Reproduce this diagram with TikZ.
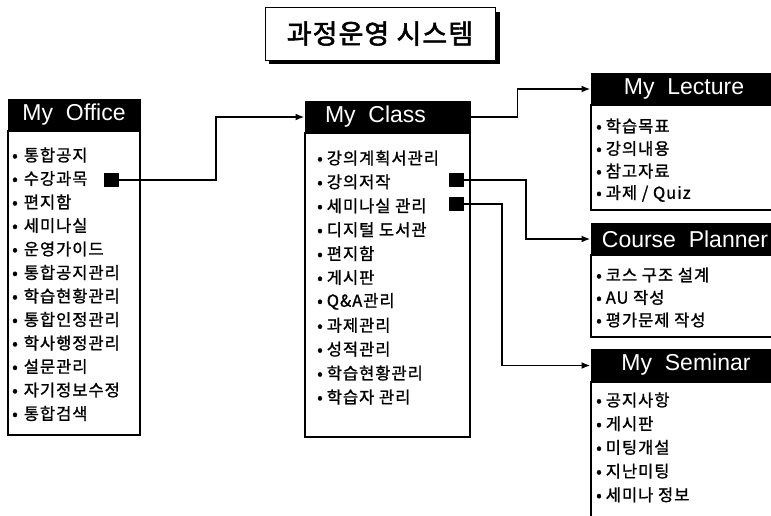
\documentclass[tikz,border=0pt]{standalone}
\usepackage{fontspec}
\setmainfont{Liberation Sans}
\newfontfamily\kr[LetterSpace=6,FakeBold=1.2]{Noto Sans CJK KR}
\newfontfamily\krt[LetterSpace=4,FakeBold=2]{Noto Sans CJK KR}
\usetikzlibrary{arrows.meta}
\begin{document}
\begin{tikzpicture}[x=1pt,y=-1pt,
  hdr/.style={draw=black,fill=black,line width=1pt,minimum height=32pt,inner sep=0pt},
  hdrtext/.style={text=white,font=\fontsize{23}{25}\selectfont,inner sep=0pt},
  body/.style={draw=black,line width=1.2pt,inner sep=0pt,minimum width=#1},
  item/.style={anchor=west,font=\kr\fontsize{16.5}{18}\selectfont,inner sep=0pt},
  sq/.style={fill=black,minimum width=15pt,minimum height=14pt,inner sep=0pt},
  conn/.style={line width=1.8pt,-{Latex[length=9pt,width=7pt]}},
]
\clip (0,0) rectangle (771,515);
\fill[white] (0,0) rectangle (771,515);

% title
\node[draw,line width=1pt,fill=white,minimum width=230pt,minimum height=53pt]
  (title) at (380,33.5) {\krt\fontsize{27}{29}\selectfont 과정운영 시스템};
\draw[line width=4pt] ([xshift=2pt,yshift=-5pt]title.north east)
  -- ([xshift=2pt,yshift=-1pt]title.south east)
  -- ([xshift=4pt,yshift=-1pt]title.south west);

% bodies
\node[body=132pt,minimum height=304pt] (officebody) at (74,283) {};
\node[body=165pt,minimum height=304pt] (classbody) at (387.5,285) {};
\node[body=189pt,minimum height=105pt] (lecturebody) at (685.5,157.5) {};
\node[body=189pt,minimum height=82pt] (plannerbody) at (685.5,296) {};
\node[body=189pt,minimum height=148pt] (seminarbody) at (685.5,456) {};

% headers
\node[hdr,minimum width=132pt] (office) at (74,115) {};
\node[hdr,minimum width=165pt] (myclass) at (387.5,117) {};
\node[hdr,minimum width=189pt] (lecture) at (685.5,89) {};
\node[hdr,minimum width=189pt] (planner) at (685.5,239) {};
\node[hdr,minimum width=189pt,minimum height=33pt] (seminar) at (685.5,365.5) {};

\node[hdrtext] (officet) at (74,115) {My~~Office};
\node[hdrtext] (myclasst) at (375.5,117) {My~~Class};
\node[hdrtext] (lecturet) at (684,89) {My~~Lecture};
\node[hdrtext] (plannert) at (685,239) {Course~~Planner};
\node[hdrtext] (seminart) at (686,365) {My~~Seminar};

% items
\foreach \t [count=\i] in {통합공지,수강과목,편지함,세미나실,운영가이드,통합공지관리,학습현황관리,통합인정관리,학사행정관리,설문관리,자기정보수정,통합검색}
  \node[item] (o\i) at (12,{155+(\i-1)*23.5}) {•\hspace{6pt}\t};
\foreach \t [count=\i] in {강의계획서관리,강의저작,세미나실 관리,디지털 도서관,편지함,게시판,Q\&A관리,과제관리,성적관리,학습현황관리,학습자 관리}
  \node[item] (c\i) at (317,{158+(\i-1)*23.9}) {•\hspace{4pt}\t};
\foreach \t [count=\i] in {학습목표,강의내용,참고자료,과제 / Quiz}
  \node[item] (l\i) at (596,{126+(\i-1)*22.5}) {•\hspace{4pt}\t};
\foreach \t [count=\i] in {코스 구조 설계,AU 작성,평가문제 작성}
  \node[item] (p\i) at (596,{275+(\i-1)*22.5}) {•\hspace{4pt}\t};
\foreach \t [count=\i] in {공지사항,게시판,미팅개설,지난미팅,세미나 정보}
  \node[item] (s\i) at (596,{400+(\i-1)*23.7}) {•\hspace{4pt}\t};

% squares
\node[sq] (so) at (111,180) {};
\node[sq] (sc1) at (456,180) {};
\node[sq] (sc2) at (456,204) {};

% connectors
\draw[conn] (so.east) -- ++(97,0) |- (myclass.west);
\draw[conn] (myclass.east) -- ++(47,0) |- (lecture.west);
\draw[conn] (sc1.east) -- ++(62,0) |- (planner.west);
\draw[conn] (sc2.east) -- ++(38,0) |- (seminar.west);
\end{tikzpicture}
\end{document}
